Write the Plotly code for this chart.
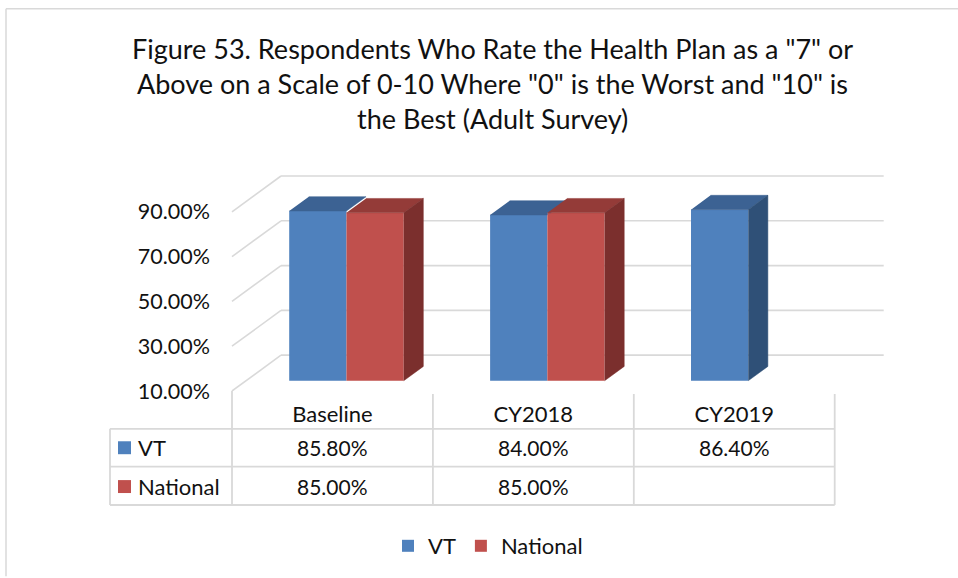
import plotly.graph_objects as go

# ---------------- data ----------------
categories = ["Baseline", "CY2018", "CY2019"]
vt_values = [85.8, 84.0, 86.4]
national_values = [85.0, 85.0, None]
series_names = ["VT", "National"]
y_tick_values = [10, 30, 50, 70, 90]
y_tick_labels = ["10.00%", "30.00%", "50.00%", "70.00%", "90.00%"]
title_lines = [
    'Figure 53. Respondents Who Rate the Health Plan as a "7" or',
    'Above on a Scale of 0-10 Where "0" is the Worst and "10" is',
    'the Best (Adult Survey)',
]

# ---------------- styling / geometry ----------------
W, H = 958, 578
FONT = "Lato"
TXT = "#111111"
GRID = "#D9D9D9"
FRONT = {"VT": "#4F81BD", "National": "#C0504D"}
TOP = {"VT": "#3C6293", "National": "#943B38"}
SIDE = {"VT": "#2F5077", "National": "#7B2F2D"}

PX_CAT = 200.9        # pixels per category
PX_UNIT = 2.25        # pixels per percentage point
FLOOR_PX = 392        # pixel row of the front floor edge
PLOT_L, PLOT_R, PLOT_T = 229, 888, 173
X_LO = -0.5 - (232 - PLOT_L) / PX_CAT
X_HI = X_LO + (PLOT_R - PLOT_L) / PX_CAT
Y_LO = 10
Y_HI = Y_LO + (FLOOR_PX - PLOT_T) / PX_UNIT

DEPTH_X, DEPTH_Y = 49 / PX_CAT, 36 / PX_UNIT     # full wall depth
BAR_F = 0.286                                    # bar front depth fraction
BAR_D = 0.40                                     # bar depth fraction
FX, FY = BAR_F * DEPTH_X, BAR_F * DEPTH_Y
BX, BY = BAR_D * DEPTH_X, BAR_D * DEPTH_Y
BAR_W = 0.285


def paper_x(p):
    return (p - PLOT_L) / (PLOT_R - PLOT_L)


def paper_y(p):
    return (FLOOR_PX - p) / (FLOOR_PX - PLOT_T)


def xdata_to_paper(x):
    return (x - X_LO) / (X_HI - X_LO)


series = {"VT": vt_values, "National": national_values}
offsets = {"VT": -0.5, "National": 0.5}

fig = go.Figure()

for name in series_names:
    vals = series[name]
    centers = [i + FX + offsets[name] * BAR_W for i in range(len(categories))]
    lengths = [None if v is None else v - Y_LO for v in vals]
    fig.add_trace(go.Bar(
        x=centers, y=lengths, base=Y_LO + FY, width=BAR_W, name=name,
        marker=dict(color=FRONT[name], line=dict(width=0)),
        hoverinfo="skip",
    ))

# 3D tops and sides, built from the same values
for name in series_names:
    vals = series[name]
    tx, ty, sx, sy = [], [], [], []
    for i, v in enumerate(vals):
        if v is None:
            continue
        c = i + FX + offsets[name] * BAR_W
        xl, xr = c - BAR_W / 2, c + BAR_W / 2
        t = v + FY
        b = Y_LO + FY
        other = national_values[i] if name == "VT" else None
        if other is not None and other + FY > t:
            nt = other + FY
            xi = xr + (nt - t) / BY * BX
            tx += [xl, xr, xr, xi, xr + BX, xl + BX, None]
            ty += [t, t, nt, nt, t + BY, t + BY, None]
        else:
            tx += [xl, xr, xr + BX, xl + BX, None]
            ty += [t, t, t + BY, t + BY, None]
        if name == "National" or other is None:
            sx += [xr, xr + BX, xr + BX, xr, None]
            sy += [b, b + BY, t + BY, t, None]
    fig.add_trace(go.Scatter(x=tx, y=ty, mode="lines", fill="toself",
                             fillcolor=TOP[name], line=dict(width=0.5, color=TOP[name]),
                             showlegend=False, hoverinfo="skip"))
    fig.add_trace(go.Scatter(x=sx, y=sy, mode="lines", fill="toself",
                             fillcolor=SIDE[name], line=dict(width=0.5, color=SIDE[name]),
                             showlegend=False, hoverinfo="skip"))

shapes = []
# back wall and side wall gridlines
for v in y_tick_values:
    shapes.append(dict(type="line", xref="x", yref="y", layer="below",
                       x0=-0.5 + DEPTH_X, y0=v + DEPTH_Y,
                       x1=len(categories) - 0.5 + DEPTH_X, y1=v + DEPTH_Y,
                       line=dict(color=GRID, width=1.6)))
    shapes.append(dict(type="line", xref="x", yref="y", layer="below",
                       x0=-0.5, y0=v, x1=-0.5 + DEPTH_X, y1=v + DEPTH_Y,
                       line=dict(color=GRID, width=1.6)))

# data table grid
row_tops = [430, 468, 506.5]
tbl_left = 110
for k in range(len(categories) + 1):
    xp = xdata_to_paper(k - 0.5)
    shapes.append(dict(type="line", xref="paper", yref="paper",
                       x0=xp, x1=xp, y0=paper_y(FLOOR_PX if k == 0 else 395),
                       y1=paper_y(row_tops[-1]),
                       line=dict(color=GRID, width=1.8)))
for r in row_tops:
    shapes.append(dict(type="line", xref="paper", yref="paper",
                       x0=paper_x(tbl_left), x1=xdata_to_paper(len(categories) - 0.5),
                       y0=paper_y(r), y1=paper_y(r),
                       line=dict(color=GRID, width=1.8)))
shapes.append(dict(type="line", xref="paper", yref="paper",
                   x0=paper_x(tbl_left), x1=paper_x(tbl_left),
                   y0=paper_y(row_tops[0]), y1=paper_y(row_tops[-1]),
                   line=dict(color=GRID, width=1.8)))

# outer chart border (top and left visible)
shapes.append(dict(type="line", xref="paper", yref="paper",
                   x0=paper_x(6), x1=paper_x(958), y0=paper_y(8), y1=paper_y(8),
                   line=dict(color=GRID, width=1.5)))
shapes.append(dict(type="line", xref="paper", yref="paper",
                   x0=paper_x(6), x1=paper_x(6), y0=paper_y(8), y1=paper_y(578),
                   line=dict(color=GRID, width=1.5)))

annotations = []
# table rows
row_centers = [449, 488]
for r, name in enumerate(series_names):
    yc = paper_y(row_centers[r])
    shapes.append(dict(type="rect", xref="paper", yref="paper",
                       x0=paper_x(118), x1=paper_x(131),
                       y0=paper_y(row_centers[r] - 6.5), y1=paper_y(row_centers[r] + 6.5),
                       fillcolor=FRONT[name], line=dict(width=0)))
    annotations.append(dict(text=name, xref="paper", yref="paper",
                            x=paper_x(136), y=yc, xanchor="left", yanchor="middle",
                            showarrow=False, font=dict(family=FONT, size=22, color=TXT)))
    for i, v in enumerate(series[name]):
        if v is None:
            continue
        annotations.append(dict(text=f"{v:.2f}%", xref="x", yref="paper",
                                x=i, y=yc, xanchor="center", yanchor="middle",
                                showarrow=False, font=dict(family=FONT, size=21, color=TXT)))

# title
for k, line in enumerate(title_lines):
    annotations.append(dict(text=line, xref="paper", yref="paper",
                            x=paper_x(492), y=paper_y(48 + 35 * k),
                            xanchor="center", yanchor="middle", showarrow=False,
                            font=dict(family=FONT, size=27, color=TXT)))

fig.update_layout(
    width=W, height=H,
    margin=dict(l=PLOT_L, r=W - PLOT_R, t=PLOT_T, b=H - FLOOR_PX, pad=0),
    paper_bgcolor="white", plot_bgcolor="rgba(0,0,0,0)",
    barmode="overlay",
    font=dict(family=FONT, size=21, color=TXT),
    xaxis=dict(range=[X_LO, X_HI], tickvals=list(range(len(categories))),
               ticktext=categories, showgrid=False, zeroline=False, showline=False,
               ticks="", ticklabelstandoff=8, tickfont=dict(size=22),
               fixedrange=True),
    yaxis=dict(range=[Y_LO, Y_HI], tickvals=y_tick_values, ticktext=y_tick_labels,
               showgrid=False, zeroline=False, showline=False, ticks="",
               ticklabelstandoff=18, tickfont=dict(size=21.5), fixedrange=True),
    legend=dict(orientation="h", x=paper_x(488), xanchor="center",
                y=paper_y(546), yanchor="middle", font=dict(size=22),
                itemwidth=30, traceorder="normal"),
    shapes=shapes, annotations=annotations,
)

fig.write_html("out.html", config={"displayModeBar": False},
               post_script="document.body.style.margin='0';document.body.style.overflow='hidden';")
